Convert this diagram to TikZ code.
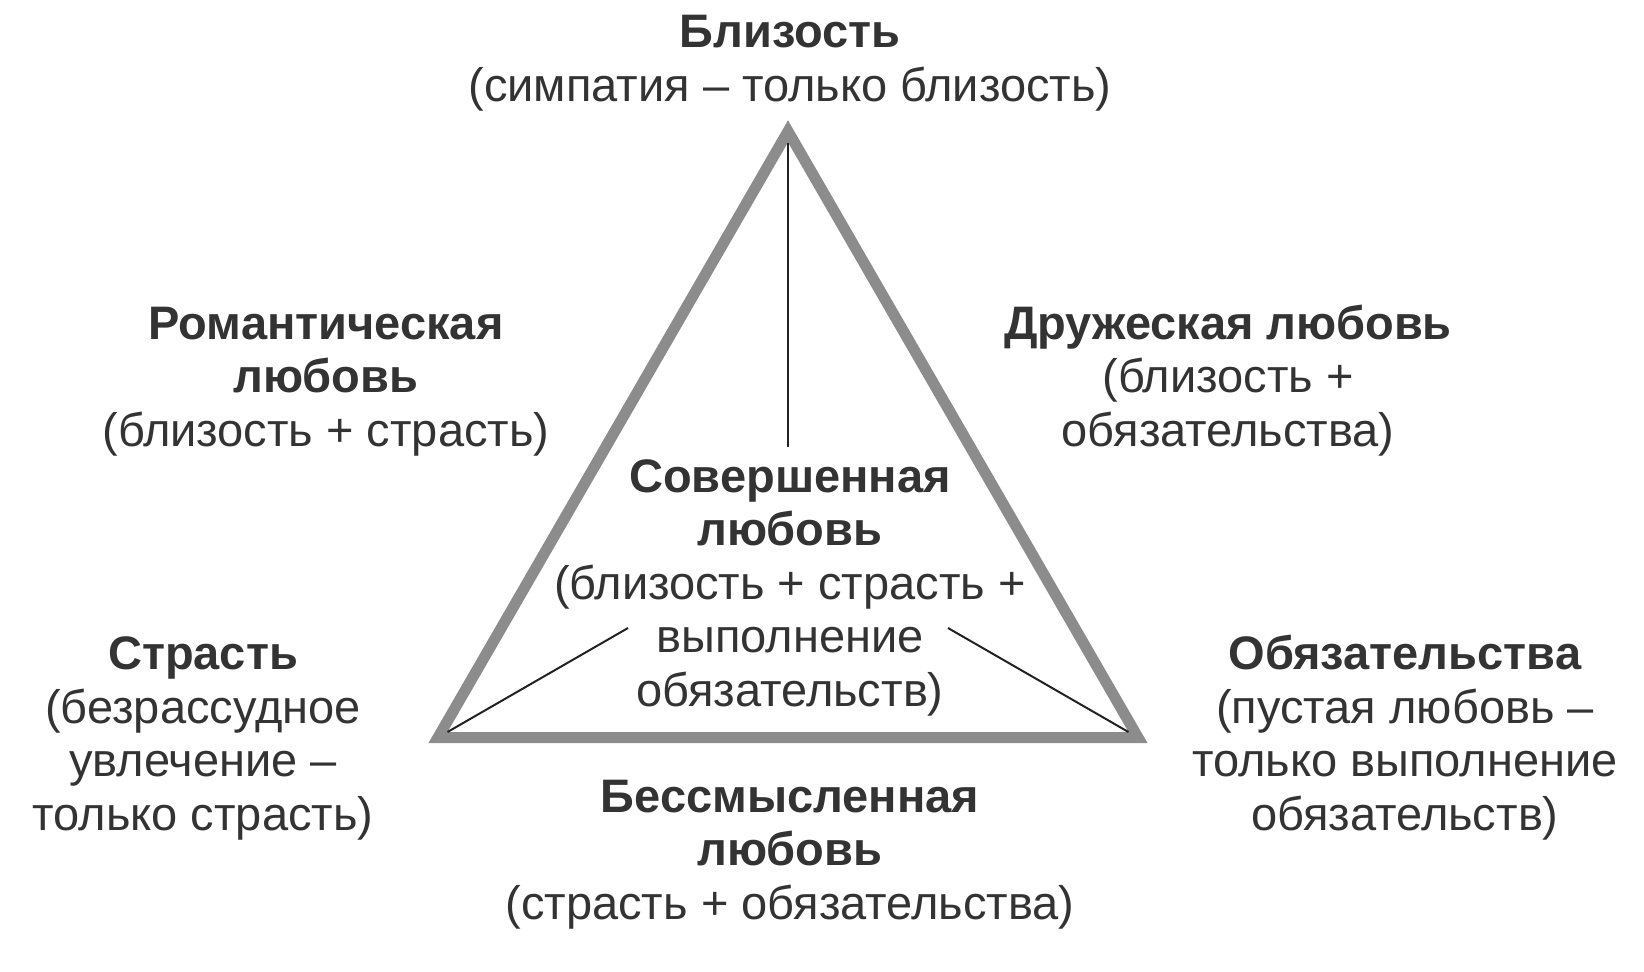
\documentclass[tikz,border=0pt]{standalone}
\usepackage{fontspec}
\setmainfont{Liberation Sans}
\definecolor{txt}{HTML}{333333}
\definecolor{edge}{HTML}{8C8C8C}
\definecolor{ray}{HTML}{222222}
\begin{document}
\begin{tikzpicture}[x=0.5pt,y=-0.5pt,
   lbl/.style={align=center,inner sep=0pt,anchor=base,text=txt,
      font=\fontsize{23.5pt}{26.75pt}\selectfont},
   side/.style={draw=edge,line width=5.5pt,miter limit=10},
   median/.style={draw=ray,line width=1pt}]
\useasboundingbox (0,0) rectangle (1644,971);
\coordinate (top) at (788,131.3);
\coordinate (left) at (438,737.5);
\coordinate (right) at (1138,737.5);
\coordinate (top in) at (788,142.5);
\coordinate (left in) at (447.5,732);
\coordinate (right in) at (1128.5,732);
\coordinate (top end) at (788,447);
\coordinate (left end) at (628,628);
\coordinate (right end) at (948,628);
\draw[side] (top) -- (left) -- (right) -- cycle;
\draw[median] (top in) -- (top end);
\draw[median] (left in) -- (left end);
\draw[median] (right in) -- (right end);
\node[lbl] (intimacy) at (790,101) {\textbf{Близость}\\(симпатия – только близость)};
\node[lbl] (romantic) at (326,446) {\textbf{Романтическая}\\\textbf{любовь}\\(близость + страсть)};
\node[lbl] (friendly) at (1228,446) {\textbf{Дружеская любовь}\\(близость +\\обязательства)};
\node[lbl] (consummate) at (790,706) {\textbf{Совершенная}\\\textbf{любовь}\\(близость + страсть +\\выполнение\\обязательств)};
\node[lbl] (passion) at (203,830) {\textbf{Страсть}\\(безрассудное\\увлечение –\\только страсть)};
\node[lbl] (commitment) at (1405,830) {\textbf{Обязательства}\\(пустая любовь –\\только выполнение\\обязательств)};
\node[lbl] (fatuous) at (790,919) {\textbf{Бессмысленная}\\\textbf{любовь}\\(страсть + обязательства)};
\end{tikzpicture}
\end{document}
